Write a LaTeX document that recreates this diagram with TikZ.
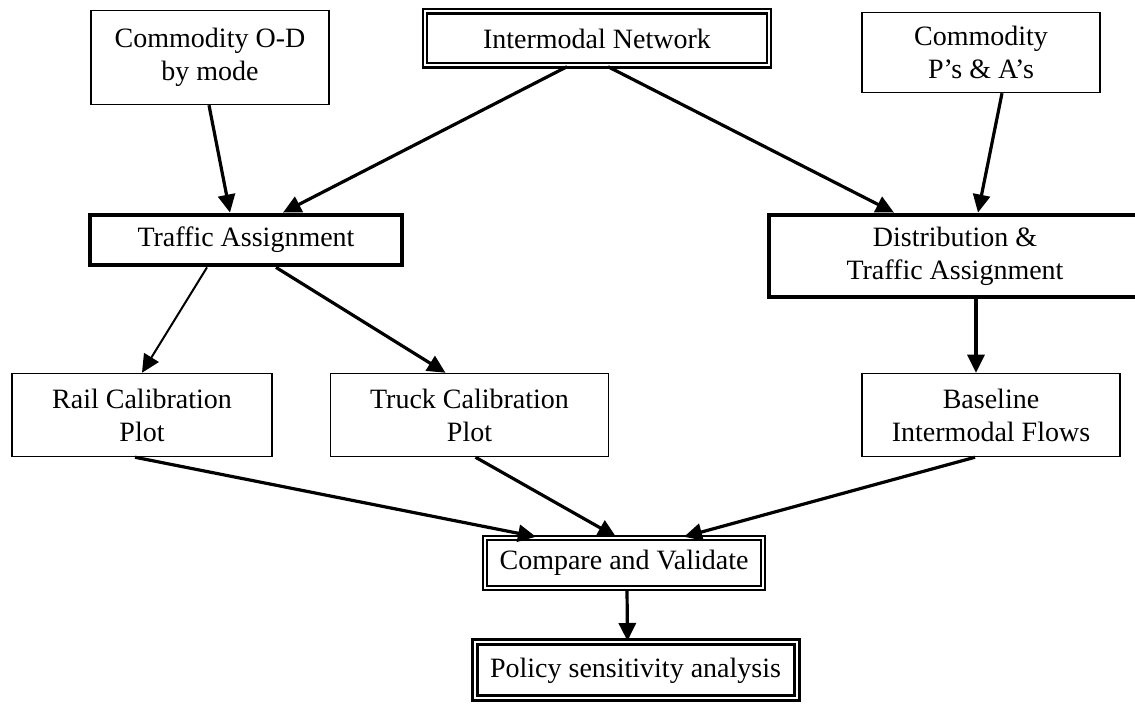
\documentclass[tikz,border=0pt]{standalone}
\usepackage{fontspec}
\setmainfont{Liberation Serif}
\usetikzlibrary{arrows.meta, positioning}

\begin{document}
\begin{tikzpicture}[
  x=0.5pt, y=-0.5pt,
  font=\fontsize{14}{16.5}\selectfont,
  box/.style={draw, line width=.75pt, align=center, inner sep=0pt},
  thickbox/.style={box, line width=2.4pt},
  dbox/.style={box, line width=1.2pt, double, double distance=1pt},
  arr/.style={-{Triangle[length=9pt, width=8.5pt]}, line width=1.6pt},
  thin/.style={line width=1pt}]

  \useasboundingbox (0,0) rectangle (1135,704);

  \node[box, minimum width=119pt, minimum height=47pt] (od) at (210,57.5) {Commodity O-D\\by mode};
  \node[dbox, minimum width=172pt, minimum height=27pt] (net) at (597,38.5) {Intermodal Network};
  \node[box, minimum width=119pt, minimum height=40pt] (pa) at (981,52.5) {Commodity\\P's \& A's};

  \node[thickbox, minimum width=156pt, minimum height=25pt] (ta) at (246,240) {Traffic Assignment};
  \node[thickbox, minimum width=186pt, minimum height=41pt] (dist) at (955,256) {Distribution \&\\Traffic Assignment};

  \node[box, minimum width=130pt, minimum height=41.5pt] (rail) at (142,415) {Rail Calibration\\Plot};
  \node[box, minimum width=139pt, minimum height=41.5pt] (truck) at (469.5,415) {Truck Calibration\\Plot};
  \node[box, minimum width=129pt, minimum height=41.5pt] (base) at (991,415) {Baseline\\Intermodal Flows};

  \node[dbox, minimum width=139pt, minimum height=25pt] (cmp) at (624,563) {Compare and Validate};
  \node[dbox, minimum width=161pt, minimum height=28pt, line width=1.5pt] (pol) at (635.5,670.5) {Policy sensitivity analysis};

  \draw[arr] ([xshift=-.5pt]od.south) -- ([xshift=-8pt]ta.north);
  \draw[arr] ([xshift=-15pt]net.south) -- ([xshift=18.5pt]ta.north);
  \draw[arr] ([xshift=5.5pt]net.south) -- ([xshift=-30.5pt]dist.north);
  \draw[arr] ([xshift=10.5pt]pa.south) -- ([xshift=11.5pt]dist.north);
  \draw[arr, thin] ([xshift=-19.5pt]ta.south) -- (rail.north);
  \draw[arr] ([xshift=15pt]ta.south) -- ([xshift=-12pt]truck.north);
  \draw[arr] ([xshift=10.5pt]dist.south) -- ([xshift=-7.5pt]base.north);
  \draw[arr] ([xshift=-3.5pt]rail.south) -- ([xshift=-44pt]cmp.north);
  \draw[arr] ([xshift=3pt]truck.south) -- ([xshift=-4pt]cmp.north);
  \draw[arr] ([xshift=-8pt]base.south) -- ([xshift=30pt]cmp.north);
  \draw[arr] ([xshift=1.5pt]cmp.south) -- ([xshift=-4pt]pol.north);
\end{tikzpicture}
\end{document}
